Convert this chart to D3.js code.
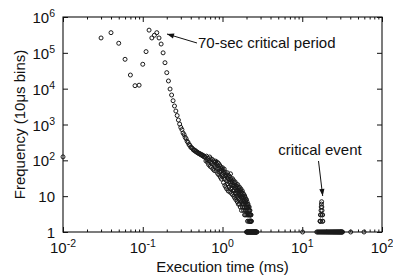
<!DOCTYPE html>
<html><head><meta charset="utf-8">
<script src="https://cdn.jsdelivr.net/npm/d3@7"></script>
<style>
html,body{margin:0;padding:0;background:#fff;}
svg{display:block;font-family:"Liberation Sans",Arial,Helvetica,sans-serif;}
</style></head>
<body>
<svg id="chart" width="393" height="278"></svg>
<script>
// ---- data (execution time in ms, frequency per 10 µs bin) ----
const edgeX = [0.01];
const edgeY = [125];

const peakX = [0.03,0.04,0.05,0.06,0.07,0.08,0.09,0.10,0.11,0.12,0.13,0.14,0.15,0.16,0.17,0.18,0.19,0.20,0.21,0.22,0.23,0.24];
const peakY = [260000,365000,185000,66000,24000,12100,12500,48000,108000,430000,260000,310000,365000,260000,176000,100000,53000,28000,16400,9780,6650,4610];

const decayX = [0.25,0.26,0.27,0.28,0.29,0.30,0.31,0.32,0.33,0.34,0.35,0.36,0.37,0.38,0.39,0.40,
  0.41,0.42,0.43,0.44,0.45,0.46,0.47,0.48,0.49,0.50,0.51,0.52,0.53,0.54,0.55,0.56,0.57,0.58,0.59,0.60];
const decayY = [3280,2380,1780,1330,1030,830,720,580,520,440,400,340,315,275,262,232,
  225,214,198,190,192,176,178,165,166,158,152,155,146,142,145,134,138,128,130,122];

const bandX = [0.61,0.62,0.63,0.64,0.65,0.66,0.67,0.68,0.69,0.70,0.71,0.72,0.73,0.74,0.75,0.76,0.77,0.78,0.79,0.80,
  0.81,0.82,0.83,0.84,0.85,0.86,0.87,0.88,0.89,0.90,0.91,0.92,0.93,0.94,0.95,0.96,0.97,0.98,0.99,1.00,
  1.01,1.02,1.03,1.04,1.05,1.06,1.07,1.08,1.09,1.10,1.11,1.12,1.13,1.14,1.15,1.16,1.17,1.18,1.19,1.20,
  1.21,1.22,1.23,1.24,1.25,1.26,1.27,1.28,1.29,1.30,1.31,1.32,1.33,1.34,1.35,1.36,1.37,1.38,1.39,1.40,
  1.41,1.42,1.43,1.44,1.45,1.46,1.47,1.48,1.49,1.50,1.51,1.52,1.53,1.54,1.55,1.56,1.57,1.58,1.59,1.60,
  1.61,1.62,1.63,1.64,1.65,1.66,1.67,1.68,1.69,1.70,1.71,1.72,1.73,1.74,1.75,1.76,1.77,1.78,1.79,1.80,
  1.81,1.82,1.83,1.84,1.85,1.86,1.87,1.88,1.89,1.90,1.91,1.92,1.93,1.94,1.95,1.96,1.97,1.98,1.99,2.00,
  2.01,2.02,2.03,2.04,2.05,2.06,2.07,2.08,2.09,2.10,2.11,2.12,2.13,2.14,2.15,2.16,2.17,2.18,2.19,2.20,
  2.21,2.22,2.23,2.24,2.25,2.26,2.27,2.28,2.29,2.30];
const bandY = [120,96,131,104,88,115,76,98,124,68,
  92,110,64,83,104,57,96,74,52,88,
  66,95,50,78,58,88,43,70,82,39,
  60,74,46,34,66,52,30,57,40,62,
  35,50,24,43,57,30,20,47,37,18,
  40,27,16,34,45,22,31,14,38,25,
  18,36,29,13,23,42,16,30,20,12,
  26,17,31,11,21,14,28,19,10,24,
  15,9,20,25,12,17,8,22,14,10,
  19,12,7,15,21,9,13,6,17,11,
  8,14,18,6,10,15,5,12,8,16,
  7,11,4,13,9,6,14,5,10,8,
  12,6,4,9,7,11,5,8,3,10,
  6,4,9,7,3,8,5,6,4,8,
  5,3,7,4,6,2,5,3,6,4,
  3,5,2,4,3,5,2,4,3,2,
  4,3,2,3,2,3,2,3,2,2];

const onesX = [2.00,2.02,2.04,2.06,2.08,2.10,2.12,2.14,2.16,2.18,2.20,2.22,2.24,2.26,2.28,2.30,2.32,2.34,2.36,2.38,
  2.40,2.42,2.44,2.46,2.48,2.50,2.52,2.54,2.56,2.58,2.60,2.62,2.64,2.66,2.68,2.70,
  10.1,
  15.2,15.6,16.0,16.4,16.8,17.2,17.6,18.0,18.4,18.8,19.2,19.6,20.0,20.4,20.8,21.2,21.6,22.0,22.4,22.8,
  23.2,23.6,24.0,24.4,24.8,25.2,25.6,26.0,26.4,26.8,27.2,27.6,28.0,28.4,28.8,29.2,29.6,30.0,30.4,30.8,31.2,31.6,32.0,
  40.5,59.5];
const onesY = onesX.map(() => 1);

const eventX = [16.7,16.8,16.9,17.0,17.1,17.2,17.3,17.4,17.5,17.6,17.7,17.8,17.9,18.0,18.1];
const eventY = [2,2,3,2,3,4,5,6,7,5,4,3,2,3,2];

const xTicks = [0.01,0.1,1,10,100];
const xTickExp = ["-2","-1","0","1","2"];
const yTicks = [1,10,100,1000,10000,100000,1000000];
const yTickBase = ["1","10","10","10","10","10","10"];
const yTickExp = ["","","2","3","4","5","6"];
const xMinor = [2,3,4,5,6,7,8,9].flatMap(m => [0.01,0.1,1,10].map(d => m*d));

const xLabel = "Execution time (ms)";
const yLabel = "Frequency (10\u03bcs bins)";
const noteTop = "70-sec critical period";
const noteEvent = "critical event";

// ---- drawing ----
const svg = d3.select("#chart");
const L = 63, R = 382, T = 17, B = 232;
const x = d3.scaleLog().domain([0.01,100]).range([L,R]);
const y = d3.scaleLog().domain([1,1e6]).range([B,T]);
const ink = "#111";

function strip(g){ g.select(".domain").remove(); g.selectAll("line").attr("stroke",ink); }

svg.append("g").attr("transform",`translate(0,${B})`)
  .call(d3.axisBottom(x).tickValues(xTicks).tickSize(-5).tickFormat("")).call(strip);
svg.append("g").attr("transform",`translate(0,${B})`)
  .call(d3.axisBottom(x).tickValues(xMinor).tickSize(-2.5).tickFormat("")).call(strip);
svg.append("g").attr("transform",`translate(0,${T})`)
  .call(d3.axisTop(x).tickValues(xTicks).tickSize(-5).tickFormat("")).call(strip);
svg.append("g").attr("transform",`translate(0,${T})`)
  .call(d3.axisTop(x).tickValues(xMinor).tickSize(-2.5).tickFormat("")).call(strip);
svg.append("g").attr("transform",`translate(${L},0)`)
  .call(d3.axisLeft(y).tickValues(yTicks).tickSize(-5).tickFormat("")).call(strip);
svg.append("g").attr("transform",`translate(${R},0)`)
  .call(d3.axisRight(y).tickValues(yTicks).tickSize(-5).tickFormat("")).call(strip);

svg.append("rect").attr("x",L).attr("y",T).attr("width",R-L).attr("height",B-T)
  .attr("fill","none").attr("stroke",ink).attr("stroke-width",1.1);

// tick labels
const xl = svg.append("g").attr("font-size",15).attr("fill",ink);
xTicks.forEach((v,i) => {
  const t = xl.append("text").attr("x",x(v)).attr("y",253).attr("text-anchor","middle");
  t.append("tspan").text("10");
  t.append("tspan").attr("dy",-6).attr("font-size",10.5).text(xTickExp[i]);
});
const yl = svg.append("g").attr("font-size",15).attr("fill",ink);
yTicks.forEach((v,i) => {
  const t = yl.append("text").attr("x",55).attr("y",y(v)+6).attr("text-anchor","end");
  t.append("tspan").text(yTickBase[i]);
  if (yTickExp[i]) t.append("tspan").attr("dy",-6).attr("font-size",10.5).text(yTickExp[i]);
});

// axis titles
svg.append("text").attr("x",(L+R)/2).attr("y",272).attr("text-anchor","middle")
  .attr("font-size",15).attr("fill",ink).text(xLabel);
svg.append("text").attr("transform",`translate(25,${(T+B)/2}) rotate(-90)`)
  .attr("text-anchor","middle").attr("font-size",15).attr("fill",ink).text(yLabel);

// points
const pts = [];
[[edgeX,edgeY],[peakX,peakY],[decayX,decayY],[bandX,bandY],[onesX,onesY],[eventX,eventY]]
  .forEach(([xs,ys]) => xs.forEach((v,i) => pts.push([v,ys[i]])));
svg.append("g").selectAll("circle").data(pts).join("circle")
  .attr("cx",d => x(d[0])).attr("cy",d => y(d[1])).attr("r",2)
  .attr("fill","none").attr("stroke","#1a1a1a").attr("stroke-width",1);

// annotations
function arrow(x1,y1,x2,y2){
  svg.append("line").attr("x1",x1).attr("y1",y1).attr("x2",x2).attr("y2",y2)
    .attr("stroke",ink).attr("stroke-width",1);
  const a = Math.atan2(y2-y1,x2-x1), len = 7, w = 2.6;
  const bx = x2 - len*Math.cos(a), by = y2 - len*Math.sin(a);
  const px = -Math.sin(a)*w, py = Math.cos(a)*w;
  svg.append("path").attr("d",`M${x2},${y2}L${bx+px},${by+py}L${bx-px},${by-py}Z`).attr("fill",ink);
}
arrow(197,43,167,34);
svg.append("text").attr("x",198).attr("y",48).attr("font-size",15).attr("fill",ink).text(noteTop);
arrow(318.5,161,322.7,196);
svg.append("text").attr("x",320).attr("y",155).attr("text-anchor","middle")
  .attr("font-size",15).attr("fill",ink).text(noteEvent);
</script>
</body></html>
